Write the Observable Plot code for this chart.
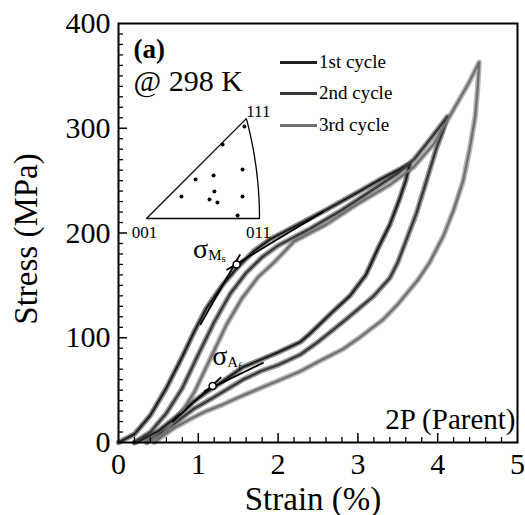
<!DOCTYPE html>
<html><head><meta charset="utf-8">
<script src="https://cdn.jsdelivr.net/npm/d3@7"></script>
<script src="https://cdn.jsdelivr.net/npm/@observablehq/plot@0.6"></script>
<style>
body{margin:0;background:#fff;}
#wrap{position:relative;width:525px;height:515px;font-family:"Liberation Serif","Times New Roman",serif;}
#wrap > svg{position:absolute;left:0;top:0;}
#wrap svg text{font-family:"Liberation Serif","Times New Roman",serif !important;}
.leg{position:absolute;display:flex;align-items:center;height:20px;font-size:19px;color:#000;white-space:nowrap;font-family:"Liberation Serif",serif;}
.leg span.sw{display:inline-block;width:37px;height:3px;margin-right:2px;}
</style></head><body><div id="wrap"></div>
<script>
// ---------- data ----------
const cycleNames = ["1st cycle", "2nd cycle", "3rd cycle"];
const cycleColors = ["#202020", "#383838", "#707070"];

const cycle1Strain = [0,0.2,0.4,0.6,0.8,0.95,1.1,1.3,1.5,1.7,1.9,2.2,2.6,3.0,3.3,3.5,3.65, 3.6,3.52,3.4,3.25,3.1,2.9,2.7,2.4,2.28,2.0,1.78,1.56,1.3,1.1,0.94,0.7,0.5,0.3,0.2];
const cycle1Stress = [0,8,26,52,82,106,128,150,168,183,194,206,222,239,252,260,266, 250,232,208,185,160,140,126,104,96,86,79,72,58,48,39,23,11,3,0];

const cycle2Strain = [0.2,0.4,0.6,0.8,1.0,1.2,1.4,1.6,1.8,2.0,2.4,2.8,3.2,3.5,3.7,3.9,4.12, 4.06,3.98,3.86,3.73,3.6,3.5,3.4,3.2,3.0,2.81,2.5,2.28,2.0,1.78,1.56,1.3,1.1,0.94,0.7,0.5,0.35];
const cycle2Stress = [0,10,28,52,84,115,142,162,177,188,204,222,242,257,270,289,311, 296,280,250,218,192,172,157,140,127,115,96,84,74,68,60,48,39,32,18,7,0];

const cycle3Strain = [0.35,0.55,0.75,0.95,1.15,1.35,1.55,1.75,1.95,2.2,2.6,3.0,3.4,3.7,3.95,4.2,4.38,4.52, 4.5,4.47,4.4,4.32,4.2,4.07,3.9,3.75,3.5,3.31,3.0,2.81,2.5,2.28,2.0,1.78,1.56,1.3,1.1,0.94,0.7,0.55,0.45];
const cycle3Stress = [0,8,24,48,80,112,138,158,172,192,208,228,246,263,285,318,342,363, 338,311,280,250,222,197,172,155,132,117,99,89,77,68,59,52,45,36,30,24,14,6,0];

// tangent-line constructions for transformation stresses
const fitMsStrain = [[1.03, 1.52], [1.36, 2.56]];
const fitMsStress = [[113, 179], [165, 220]];
const fitAfStrain = [[0.68, 1.28], [1.08, 1.81]];
const fitAfStress = [[20, 62], [49, 76]];
const pointStrain = [1.48, 1.18];
const pointStress = [170, 54];
const pointNames = ["Ms", "Af"];

// inset inverse pole figure (stereographic coordinates)
const grainU = [0.359,0.279,0.352,0.246,0.180,0.249,0.128,0.352,0.231,0.260,0.334];
const grainV = [0.337,0.271,0.180,0.158,0.143,0.099,0.081,0.081,0.070,0.059,0.011];
const poleLabels = ["001", "011", "111"];

// axis ticks
const xTickLabels = [0, 1, 2, 3, 4, 5];
const yTickLabels = [0, 100, 200, 300, 400];

// ---------- build ----------
const strainArrays = [cycle1Strain, cycle2Strain, cycle3Strain];
const stressArrays = [cycle1Stress, cycle2Stress, cycle3Stress];
const curves = [];
strainArrays.forEach((xs, c) => xs.forEach((x, i) => curves.push({cycle: cycleNames[c], strain: x, stress: stressArrays[c][i]})));

const fits = [];
[[fitMsStrain, fitMsStress], [fitAfStrain, fitAfStress]].forEach(([xs, ys], k) =>
  xs.forEach((seg, s) => seg.forEach((x, i) => fits.push({id: k + "-" + s, strain: x, stress: ys[s][i]}))));
const points = pointStrain.map((x, i) => ({strain: x, stress: pointStress[i], name: pointNames[i]}));

const W = 525, H = 515, mL = 118, mR = 8, mT = 23, mB = 73;
const fh = H - mT - mB, fw = W - mL - mR;
const pxPerY = fh / 400, pxPerX = fw / 5;
const xMinor = d3.range(0.2, 5, 0.2).filter(v => Math.abs(v - Math.round(v)) > 1e-6);
const xMajor = xTickLabels.slice(1, -1);
const yMinor = d3.range(10, 400, 10).filter(v => v % 100 !== 0);
const yMajor = yTickLabels.slice(1, -1);

const serif = '"Liberation Serif", "Times New Roman", serif';
const plot = Plot.plot({
  width: W, height: H, marginLeft: mL, marginRight: mR, marginTop: mT, marginBottom: mB,
  style: {fontFamily: serif, fontSize: "30px", color: "#000", background: "transparent", overflow: "visible"},
  x: {domain: [0, 5]},
  y: {domain: [0, 400]},
  color: {domain: cycleNames, range: cycleColors},
  marks: [
    // fuzzy halo imitating the noisy measurement signal
    Plot.line(curves, {x: "strain", y: "stress", z: "cycle", stroke: "cycle", strokeWidth: 5.5, strokeDasharray: "1,1.4", strokeOpacity: 0.5}),
    Plot.line(curves, {x: "strain", y: "stress", z: "cycle", stroke: "cycle", strokeWidth: 2.3}),
    Plot.line(fits, {x: "strain", y: "stress", z: "id", stroke: "#000", strokeWidth: 1.8}),
    Plot.dot(points, {x: "strain", y: "stress", r: 3.5, fill: "white", stroke: "#000", strokeWidth: 1.5}),
    Plot.ruleX(xMinor, {x: d => d, y1: 0, y2: 5 / pxPerY, stroke: "#000", strokeWidth: 1.3}),
    Plot.ruleX(xMajor, {x: d => d, y1: 0, y2: 9 / pxPerY, stroke: "#000", strokeWidth: 1.5}),
    Plot.ruleY(yMinor, {y: d => d, x1: 0, x2: 5 / pxPerX, stroke: "#000", strokeWidth: 1.3}),
    Plot.ruleY(yMajor, {y: d => d, x1: 0, x2: 9 / pxPerX, stroke: "#000", strokeWidth: 1.5}),
    Plot.axisX({ticks: xTickLabels, tickFormat: d => String(d), tickSize: 0, tickPadding: 10, label: null, fontSize: 30, fontFamily: serif}),
    Plot.axisY({ticks: yTickLabels, tickFormat: d => String(d), tickSize: 0, tickPadding: 8, label: null, fontSize: 30, fontFamily: serif}),
    Plot.frame({stroke: "#000", strokeWidth: 2}),
    Plot.text(["Strain (%)"], {text: d => d, frameAnchor: "bottom", lineAnchor: "bottom", dx: -5, dy: 67, fontSize: 33, fontFamily: serif}),
    Plot.text(["Stress (MPa)"], {text: d => d, frameAnchor: "left", textAnchor: "middle", lineAnchor: "bottom", rotate: -90, dx: -82, dy: 6, fontSize: 33, fontFamily: serif}),
    Plot.text(["(a)"], {text: d => d, frameAnchor: "top-left", lineAnchor: "bottom", dx: 15, dy: 34, fontSize: 27, fontWeight: "bold", fontFamily: serif}),
    Plot.text(["@ 298 K"], {text: d => d, frameAnchor: "top-left", lineAnchor: "bottom", dx: 15, dy: 67, fontSize: 30, fontFamily: serif}),
    Plot.text(["2P (Parent)"], {text: d => d, frameAnchor: "bottom-right", textAnchor: "end", lineAnchor: "bottom", dx: -2, dy: -14, fontSize: 29, fontFamily: serif})
  ]
});
plot.style.fontFamily = serif;

// sigma labels (rich text with nested subscripts)
const ns = "http://www.w3.org/2000/svg";
const sx = plot.scale("x"), sy = plot.scale("y");
function sigma(i, dx, dy, sub, subsub, subdy, subsubdy) {
  const cx = sx.apply(points[i].strain), cy = sy.apply(points[i].stress);
  const t = document.createElementNS(ns, "text");
  t.setAttribute("x", cx + dx); t.setAttribute("y", cy + dy);
  t.setAttribute("text-anchor", "start");
  t.setAttribute("font-size", 28); t.setAttribute("fill", "#000");
  t.innerHTML = `<tspan>σ</tspan><tspan font-size="15" dy="${subdy}">${sub}</tspan><tspan font-size="11" dy="${subsubdy}">${subsub}</tspan>`;
  plot.appendChild(t);
}
sigma(0, -43, -6, "M", "s", 2, 2);
sigma(1, 0, -20, "A", "f", 2, 3);

const wrap = document.getElementById("wrap");
wrap.appendChild(plot);

// inset: inverse pole figure triangle
const k = 272.8, iw = 155, ih = 145, ox = 20, oy = 118;
const arc = d3.range(0, 15.001, 0.5).map(a => ({u: -1 + Math.SQRT2 * Math.cos(a * Math.PI / 180), v: Math.SQRT2 * Math.sin(a * Math.PI / 180)}));
const outline = [{u: 0, v: 0}, ...arc, {u: 0, v: 0}];
const grains = grainU.map((u, i) => ({u, v: grainV[i]}));
const poles = [{u: 0, v: 0}, {u: Math.SQRT2 - 1, v: 0}, {u: 0.366, v: 0.366}];
const inset = Plot.plot({
  width: iw, height: ih, margin: 0,
  style: {fontFamily: serif, fontSize: "17px", background: "transparent", overflow: "visible"},
  x: {domain: [-ox / k, (iw - ox) / k], axis: null},
  y: {domain: [-(ih - oy) / k, oy / k], axis: null},
  marks: [
    Plot.line(outline, {x: "u", y: "v", stroke: "#000", strokeWidth: 1.3}),
    Plot.dot(grains, {x: "u", y: "v", r: 2, fill: "#000"}),
    Plot.text([poles[0]], {x: "u", y: "v", text: () => poleLabels[0], dx: -2, dy: 19, lineAnchor: "bottom", fontSize: 17}),
    Plot.text([poles[1]], {x: "u", y: "v", text: () => poleLabels[1], dx: -1, dy: 19, lineAnchor: "bottom", fontSize: 17}),
    Plot.text([poles[2]], {x: "u", y: "v", text: () => poleLabels[2], dx: 12, dy: -2, lineAnchor: "bottom", fontSize: 17})
  ]
});
inset.style.left = "126px"; inset.style.top = "100px";
wrap.appendChild(inset);

// legend
[62, 93, 125].forEach((cy, i) => {
  const d = document.createElement("div");
  d.className = "leg";
  d.style.left = "280px"; d.style.top = (cy - 10) + "px";
  d.innerHTML = `<span class="sw" style="background:${cycleColors[i]}"></span>${cycleNames[i]}`;
  wrap.appendChild(d);
});
</script></body></html>
